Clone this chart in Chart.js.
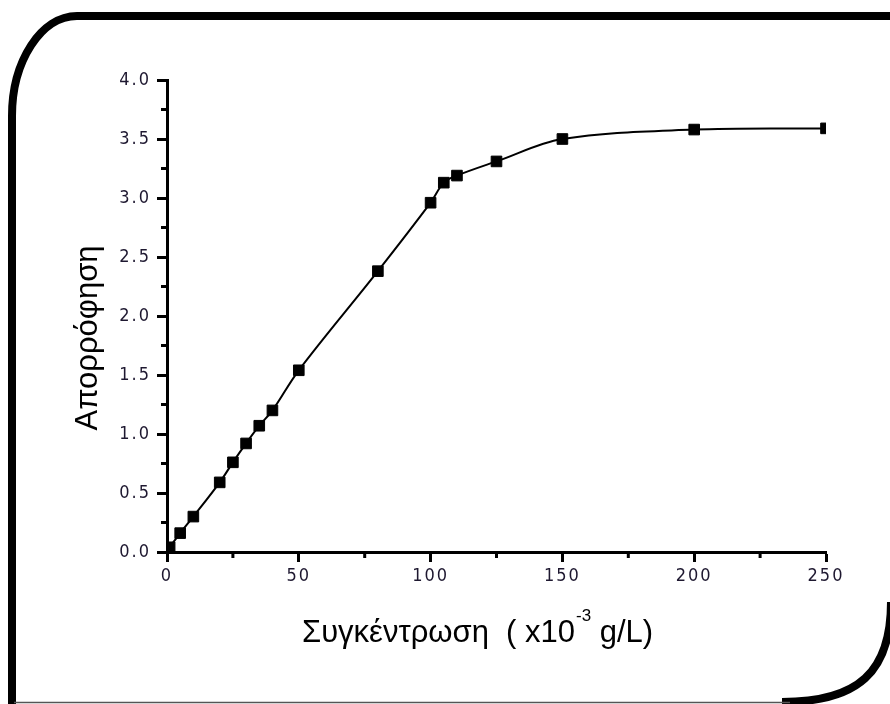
<!DOCTYPE html>
<html><head><meta charset="utf-8">
<script src="https://cdn.jsdelivr.net/npm/chart.js@4.4.0/dist/chart.umd.min.js"></script>
<style>html,body{margin:0;padding:0;background:#fff;overflow:hidden;} #wrap{width:890px;height:704px;}</style>
</head><body><div id="wrap"><canvas id="c" width="890" height="704"></canvas></div>
<script>
// ---- data ----
const concentration = [1, 5, 10, 20, 25, 30, 35, 40, 50, 80, 100, 105, 110, 125, 150, 200, 250];
const absorbance    = [0.04, 0.16, 0.30, 0.59, 0.76, 0.92, 1.07, 1.20, 1.54, 2.38, 2.96, 3.13, 3.19, 3.31, 3.50, 3.58, 3.59];
const xMinorTicks = [25, 75, 125, 175, 225];
const yMinorTicks = [0.25, 0.75, 1.25, 1.75, 2.25, 2.75, 3.25, 3.75];
const xTitleMain = 'Συγκέντρωση  ( x10';
const xTitleSup = '-3';
const xTitleEnd = ' g/L)';
const yTitle = 'Απορρόφηση';

const tickFont = {family: '"Liberation Sans Narrow", "DejaVu Sans Condensed", "Liberation Sans", sans-serif', size: 18};
const tickColor = '#1e1830';

const framePlugin = {
  id: 'frame',
  beforeDraw(chart) {
    const ctx = chart.ctx;
    ctx.save();
    ctx.fillStyle = '#fff';
    ctx.fillRect(0, 0, chart.width, chart.height);
    ctx.strokeStyle = '#000';
    ctx.lineWidth = 8;
    ctx.lineCap = 'butt';
    // left + top-left corner + top
    ctx.beginPath();
    ctx.moveTo(12, 710);
    ctx.lineTo(12, 116);
    const k = 0.55;
    ctx.bezierCurveTo(12, 116 - 100 * k, 77 - 65 * k, 16, 77, 16);
    ctx.lineTo(900, 16);
    ctx.stroke();
    // bottom-right corner
    const k2 = 0.7;
    ctx.beginPath();
    ctx.moveTo(891, 602);
    ctx.bezierCurveTo(891, 602 + 100 * k2, 782 + 109 * k2, 702, 782, 702);
    ctx.stroke();
    // thin bottom line
    ctx.strokeStyle = '#555';
    ctx.lineWidth = 1.5;
    ctx.beginPath();
    ctx.moveTo(14, 702.5);
    ctx.lineTo(790, 702.5);
    ctx.stroke();
    ctx.restore();
    ctx.letterSpacing = '2px';
  },
  afterDraw(chart) {
    const ctx = chart.ctx;
    const xs = chart.scales.x, ys = chart.scales.y;
    ctx.save();
    ctx.letterSpacing = '0px';
    ctx.fillStyle = '#000';
    // minor ticks
    xMinorTicks.forEach(v => {
      const px = xs.getPixelForValue(v);
      ctx.fillRect(px - 1.5, chart.chartArea.bottom, 3, 6);
    });
    yMinorTicks.forEach(v => {
      const py = ys.getPixelForValue(v);
      ctx.fillRect(chart.chartArea.left - 6, py - 1.5, 6, 3);
    });
    // y title
    ctx.font = '31px "Liberation Sans", Arial, sans-serif';
    ctx.textBaseline = 'alphabetic';
    ctx.save();
    ctx.translate(97, 338);
    ctx.rotate(-Math.PI / 2);
    ctx.textAlign = 'center';
    ctx.fillText(yTitle, 0, 0);
    ctx.restore();
    // x title with superscript
    ctx.textAlign = 'left';
    let x = 302;
    ctx.fillText(xTitleMain, x, 642);
    x += ctx.measureText(xTitleMain).width + 1;
    ctx.font = '17px "Liberation Sans", Arial, sans-serif';
    ctx.fillText(xTitleSup, x, 621);
    x += ctx.measureText(xTitleSup).width;
    ctx.font = '31px "Liberation Sans", Arial, sans-serif';
    ctx.fillText(xTitleEnd, x, 642);
    ctx.restore();
  }
};

new Chart(document.getElementById('c'), {
  type: 'line',
  data: {
    datasets: [{
      data: concentration.map((c, i) => ({x: c, y: absorbance[i]})),
      borderColor: '#000',
      borderWidth: 2,
      tension: 0.35,
      pointStyle: 'rect',
      pointRadius: 7.5,
      pointBorderWidth: 1,
      pointBackgroundColor: '#000',
      pointBorderColor: '#000',
      fill: false
    }]
  },
  options: {
    responsive: false,
    devicePixelRatio: 1,
    animation: false,
    layout: {padding: {left: 107, right: 64, top: 80, bottom: 112}},
    plugins: {legend: {display: false}, tooltip: {enabled: false}},
    scales: {
      x: {
        type: 'linear', min: 0, max: 250,
        ticks: {stepSize: 50, font: tickFont, color: tickColor, padding: 4, maxRotation: 0},
        grid: {drawOnChartArea: false, drawTicks: true, tickLength: 10, tickWidth: 3, tickColor: '#000'},
        border: {display: true, color: '#000', width: 3},
        afterFit: s => { s.height = 40; }
      },
      y: {
        type: 'linear', min: 0, max: 4,
        ticks: {stepSize: 0.5, font: tickFont, color: tickColor, padding: 6, callback: v => Number(v).toFixed(1)},
        grid: {drawOnChartArea: false, drawTicks: true, tickLength: 10, tickWidth: 3, tickColor: '#000'},
        border: {display: true, color: '#000', width: 3},
        afterFit: s => { s.width = 60; }
      }
    }
  },
  plugins: [framePlugin]
});
</script>
</body></html>
